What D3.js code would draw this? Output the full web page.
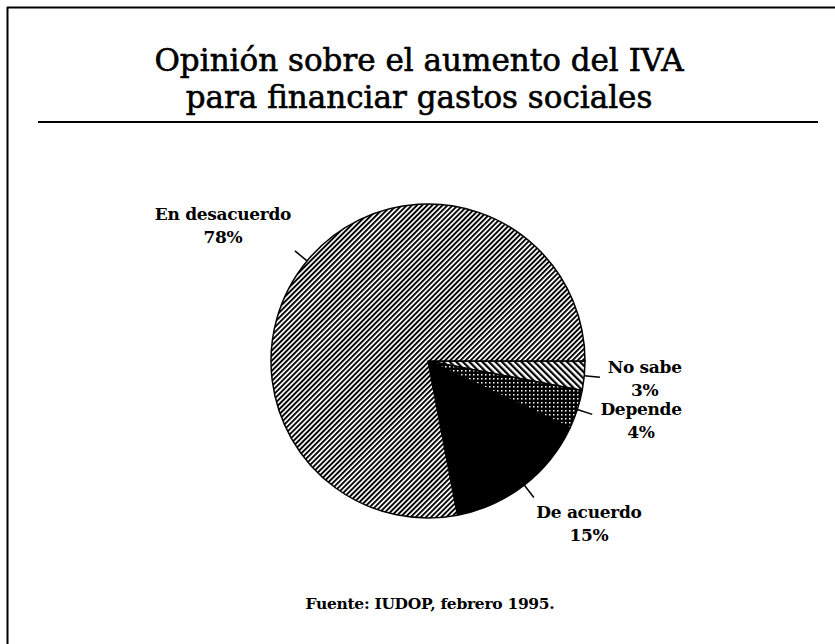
<!DOCTYPE html>
<meta charset="utf-8">
<style>
body { margin: 0; background: #fff; }
svg { display: block; }
</style>
<body>
<svg id="chart"></svg>
<script src="https://d3js.org/d3.v7.min.js"></script>
<script>
// data (clockwise from 3 o'clock)
var categories = ["No sabe", "Depende", "De acuerdo", "En desacuerdo"];
var values = [3, 4, 15, 78];
var titleLines = ["Opinión sobre el aumento del IVA", "para financiar gastos sociales"];
var source = "Fuente: IUDOP, febrero 1995.";

var W = 835, H = 644;
var cx = 428, cy = 361, r = 157;

var svg = d3.select("#chart").attr("width", W).attr("height", H);
var defs = svg.append("defs");

// fill patterns
var p1 = defs.append("pattern").attr("id", "pDes")
    .attr("patternUnits", "userSpaceOnUse").attr("width", 3.6).attr("height", 3.6)
    .attr("patternTransform", "rotate(45)");
p1.append("rect").attr("width", 3.6).attr("height", 3.6).attr("fill", "#fff");
p1.append("rect").attr("width", 1.9).attr("height", 3.6).attr("fill", "#000");

var p2 = defs.append("pattern").attr("id", "pNo")
    .attr("patternUnits", "userSpaceOnUse").attr("width", 4.6).attr("height", 4.6)
    .attr("patternTransform", "rotate(-45)");
p2.append("rect").attr("width", 4.6).attr("height", 4.6).attr("fill", "#fff");
p2.append("rect").attr("width", 2.2).attr("height", 4.6).attr("fill", "#000");

var p3 = defs.append("pattern").attr("id", "pDep")
    .attr("patternUnits", "userSpaceOnUse").attr("width", 4).attr("height", 4);
p3.append("rect").attr("width", 4).attr("height", 4).attr("fill", "#000");
p3.append("rect").attr("x", 1).attr("y", 1).attr("width", 1.5).attr("height", 1.5).attr("fill", "#fff");

var fills = {"No sabe": "url(#pNo)", "Depende": "url(#pDep)", "De acuerdo": "#000", "En desacuerdo": "url(#pDes)"};

// frame
svg.append("line").attr("x1", 7).attr("x2", W).attr("y1", 7.5).attr("y2", 7.5)
    .attr("stroke", "#000").attr("stroke-width", 2);
svg.append("line").attr("x1", 7.5).attr("x2", 7.5).attr("y1", 7).attr("y2", H)
    .attr("stroke", "#000").attr("stroke-width", 2);

// title
svg.selectAll(".title").data(titleLines).enter().append("text")
    .attr("class", "title")
    .attr("x", 419)
    .attr("y", function(d, i) { return 71 + i * 37; })
    .attr("text-anchor", "middle")
    .attr("font-family", "DejaVu Serif")
    .attr("font-size", "31px")
    .attr("stroke", "#000").attr("stroke-width", 0.6)
    .text(function(d) { return d; });

svg.append("line").attr("x1", 38).attr("x2", 818).attr("y1", 122).attr("y2", 122)
    .attr("stroke", "#000").attr("stroke-width", 2);

var data = categories.map(function(c, i) { return {name: c, value: values[i]}; });

var pie = d3.pie().sort(null).value(function(d) { return d.value; })
    .startAngle(Math.PI / 2).endAngle(Math.PI / 2 + 2 * Math.PI);
var arc = d3.arc().innerRadius(0).outerRadius(r);

var g = svg.append("g").attr("transform", "translate(" + cx + "," + cy + ")");
var arcs = pie(data);

g.selectAll("path").data(arcs).enter().append("path")
    .attr("d", arc)
    .attr("fill", function(d) { return fills[d.data.name]; })
    .attr("stroke", "#000").attr("stroke-width", 1.5).attr("stroke-linejoin", "round");

// leader lines and labels (label spot in units of the radius)
function pt(a, rad) { return [Math.sin(a) * rad, -Math.cos(a) * rad]; }
var labelSpot = {
  "No sabe":       [1.38, 0.076],
  "Depende":       [1.357, 0.344],
  "De acuerdo":    [1.025, 1.0],
  "En desacuerdo": [-1.306, -0.898]
};

arcs.forEach(function(d) {
  var mid = (d.startAngle + d.endAngle) / 2;
  var s = labelSpot[d.data.name];
  var a = pt(mid, r), b = pt(mid, r * 1.1);
  g.append("line").attr("x1", a[0]).attr("y1", a[1]).attr("x2", b[0]).attr("y2", b[1])
      .attr("stroke", "#000").attr("stroke-width", 1.5);
  var t = g.append("text")
      .attr("x", r * s[0]).attr("y", r * s[1])
      .attr("text-anchor", "middle")
      .attr("font-family", "DejaVu Serif")
      .attr("font-weight", "bold")
      .attr("font-size", "17px")
      .attr("letter-spacing", "-0.3px");
  t.append("tspan").attr("x", r * s[0]).attr("dy", 0).text(d.data.name);
  t.append("tspan").attr("x", r * s[0]).attr("dy", 23).text(d.data.value + "%");
});

svg.append("text")
    .attr("x", 430).attr("y", 609)
    .attr("text-anchor", "middle")
    .attr("font-family", "DejaVu Serif")
    .attr("font-weight", "bold")
    .attr("font-size", "15.5px")
    .attr("letter-spacing", "-0.3px")
    .text(source);
</script>
</body>
